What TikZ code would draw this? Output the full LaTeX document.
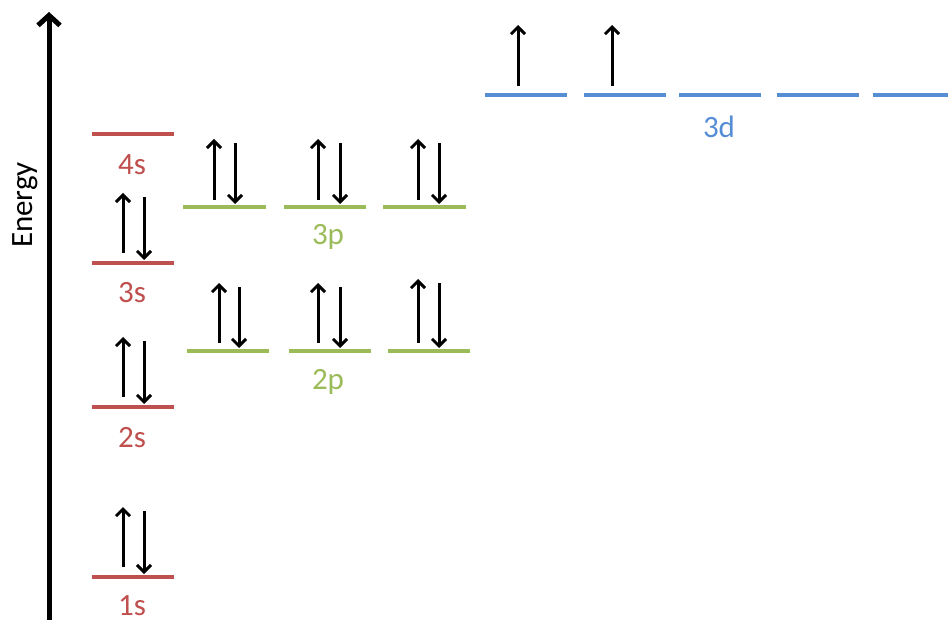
\documentclass[tikz,border=0pt]{standalone}
\usepackage{fontspec}
\setmainfont{Carlito}
\usetikzlibrary{arrows.meta}
\definecolor{sred}{HTML}{C0504D}
\definecolor{pgreen}{HTML}{9BBB59}
\definecolor{dblue}{HTML}{558ED5}
\tikzset{
  lvl/.style={line width=4.5pt},
  slvl/.style={lvl, draw=sred},
  plvl/.style={lvl, draw=pgreen},
  dlvl/.style={lvl, draw=dblue},
  spin/.style={line width=3pt, -{Straight Barb[length=7pt,width=14pt,line width=3pt]}},
  lab/.style={anchor=base, font=\fontsize{31}{33}\selectfont},
}
\begin{document}
\begin{tikzpicture}[x=1pt,y=-1pt]
\useasboundingbox (0,0) rectangle (948,620);
% energy axis
\coordinate (axbot) at (49,625);
\coordinate (axtop) at (49,12);
\draw[line width=5pt, -{Straight Barb[length=10pt,width=22pt,line width=5pt]}] (axbot) -- (axtop);
\node[rotate=90, anchor=base, font=\fontsize{31}{33}\selectfont] (energy) at (32,205) {Energy};

% s levels
\foreach \n/\y/\b in {4/134/175, 3/263/303, 2/407/447, 1/577/615}{
  \coordinate (s\n l) at (92,\y);
  \coordinate (s\n r) at (174,\y);
  \draw[slvl] (s\n l) -- (s\n r);
  \node[lab, text=sred] (s\n lab) at (132,\b) {\n s};
}
% s electrons
\foreach \n/\y in {3/263, 2/407, 1/577}{
  \coordinate (s\n ub) at (123,\y-10);
  \coordinate (s\n ut) at (123,\y-70);
  \coordinate (s\n dt) at (144,\y-66);
  \coordinate (s\n db) at (144,\y-3);
  \draw[spin] (s\n ub) -- (s\n ut);
  \draw[spin] (s\n dt) -- (s\n db);
}

% 3p levels
\foreach \i/\xa/\xb/\xu/\xd in {1/183/266/214/235, 2/284/366/318/340, 3/383/466/418/439}{
  \coordinate (p3\i l) at (\xa,207);
  \coordinate (p3\i r) at (\xb,207);
  \draw[plvl] (p3\i l) -- (p3\i r);
  \coordinate (p3\i ub) at (\xu,200);
  \coordinate (p3\i ut) at (\xu,139);
  \coordinate (p3\i dt) at (\xd,143);
  \coordinate (p3\i db) at (\xd,204);
  \draw[spin] (p3\i ub) -- (p3\i ut);
  \draw[spin] (p3\i dt) -- (p3\i db);
}
\node[lab, text=pgreen] (p3lab) at (328,245) {3p};

% 2p levels
\foreach \i/\xa/\xb/\xu/\xd/\t in {1/187/269/219/239/283, 2/289/371/318/340/283, 3/388/470/418/439/279}{
  \coordinate (p2\i l) at (\xa,351);
  \coordinate (p2\i r) at (\xb,351);
  \draw[plvl] (p2\i l) -- (p2\i r);
  \coordinate (p2\i ub) at (\xu,343);
  \coordinate (p2\i ut) at (\xu,\t);
  \coordinate (p2\i dt) at (\xd,\t+4);
  \coordinate (p2\i db) at (\xd,348);
  \draw[spin] (p2\i ub) -- (p2\i ut);
  \draw[spin] (p2\i dt) -- (p2\i db);
}
\node[lab, text=pgreen] (p2lab) at (328,389) {2p};

% 3d levels
\foreach \i/\xa/\xb in {1/485/567, 2/584/666, 3/679/761, 4/777/859, 5/873/955}{
  \coordinate (d\i l) at (\xa,95);
  \coordinate (d\i r) at (\xb,95);
  \draw[dlvl] (d\i l) -- (d\i r);
}
\coordinate (d1ub) at (518,86);
\coordinate (d1ut) at (518,25);
\coordinate (d2ub) at (612,86);
\coordinate (d2ut) at (612,25);
\draw[spin] (d1ub) -- (d1ut);
\draw[spin] (d2ub) -- (d2ut);
\node[lab, text=dblue] (dlab) at (719,138) {3d};
\end{tikzpicture}
\end{document}
